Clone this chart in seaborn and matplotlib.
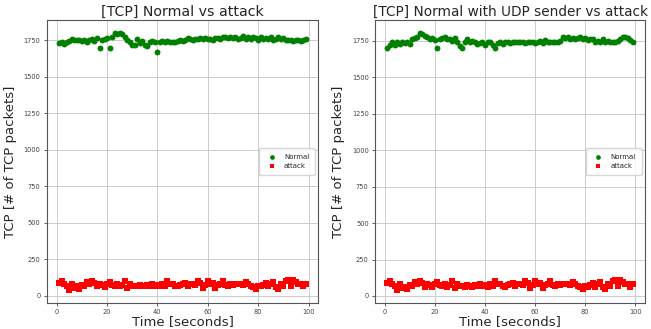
import numpy as np
import pandas as pd
import matplotlib
matplotlib.use("Agg")
import matplotlib.pyplot as plt
import seaborn as sns

# ── Data ──
seconds = list(range(1, 100))

normal_left = [
    1730, 1740, 1725, 1740, 1745, 1760, 1755, 1750, 1755, 1745,
    1750, 1735, 1755, 1760, 1745, 1765, 1700, 1750, 1760, 1765,
    1700, 1770, 1800, 1795, 1800, 1790, 1770, 1750, 1740, 1715,
    1715, 1760, 1730, 1745, 1720, 1710, 1735, 1745, 1740, 1670,
    1740, 1745, 1735, 1745, 1740, 1740, 1735, 1745, 1750, 1745,
    1755, 1765, 1760, 1755, 1760, 1760, 1765, 1760, 1765, 1760,
    1760, 1755, 1765, 1765, 1760, 1770, 1770, 1765, 1775, 1765,
    1770, 1760, 1765, 1780, 1760, 1770, 1760, 1775, 1765, 1755,
    1770, 1760, 1765, 1760, 1770, 1755, 1760, 1770, 1760, 1765,
    1755, 1755, 1750, 1745, 1750, 1750, 1745, 1750, 1760,
]

normal_udp = [
    1705, 1720, 1745, 1720, 1740, 1730, 1740, 1735, 1745, 1730,
    1760, 1770, 1780, 1805, 1800, 1785, 1775, 1760, 1770, 1755,
    1705, 1760, 1770, 1775, 1760, 1765, 1750, 1770, 1740, 1715,
    1705, 1745, 1760, 1740, 1750, 1745, 1730, 1735, 1740, 1725,
    1745, 1740, 1720, 1700, 1735, 1740, 1730, 1740, 1745, 1735,
    1745, 1740, 1745, 1740, 1740, 1735, 1740, 1745, 1740, 1735,
    1745, 1750, 1735, 1755, 1740, 1745, 1740, 1740, 1745, 1750,
    1775, 1770, 1775, 1765, 1770, 1765, 1770, 1775, 1760, 1770,
    1755, 1765, 1760, 1745, 1750, 1745, 1760, 1740, 1750, 1745,
    1740, 1745, 1750, 1760, 1775, 1780, 1770, 1755, 1745,
]

attack = [
    90, 100, 85, 70, 40, 80, 55, 65, 50, 75,
    70, 95, 80, 100, 90, 65, 85, 75, 60, 80,
    95, 75, 70, 85, 65, 75, 100, 55, 85, 70,
    70, 65, 75, 70, 65, 75, 70, 80, 70, 75,
    65, 80, 70, 105, 85, 80, 70, 65, 75, 80,
    90, 70, 80, 85, 75, 105, 90, 55, 75, 100,
    80, 90, 55, 75, 80, 100, 75, 70, 80, 75,
    85, 80, 80, 75, 95, 85, 70, 60, 50, 70,
    65, 75, 90, 65, 80, 95, 60, 50, 85, 70,
    100, 110, 70, 110, 95, 85, 80, 65, 80,
]

titles = ["[TCP] Normal vs attack", "[TCP] Normal with UDP sender vs attack"]

sns.set_style("ticks")
plt.rcParams["font.family"] = ["DejaVu Sans"]

fig = plt.figure(figsize=(6.51, 3.29), dpi=100)
ax1 = fig.add_axes([0.072, 0.079, 0.417, 0.860])
ax2 = fig.add_axes([0.576, 0.079, 0.415, 0.860])

for ax, normal, title in [(ax1, normal_left, titles[0]), (ax2, normal_udp, titles[1])]:
    df_n = pd.DataFrame({"t": seconds, "v": normal})
    df_a = pd.DataFrame({"t": seconds, "v": attack})
    sns.scatterplot(data=df_n, x="t", y="v", ax=ax, color="green", marker="o",
                    s=18, linewidth=0, label="Normal")
    sns.scatterplot(data=df_a, x="t", y="v", ax=ax, color="red", marker="s",
                    s=13, linewidth=0, label="attack")
    ax.set_title(title, fontsize=10.2 if ax is ax1 else 9.8, pad=3)
    ax.set_xlabel("Time [seconds]", fontsize=9.5, labelpad=0)
    ax.set_ylabel("TCP [# of TCP packets]", fontsize=9.5, labelpad=5)
    ax.set_yticks([0, 250, 500, 750, 1000, 1250, 1500, 1750])
    ax.set_xticks([0, 20, 40, 60, 80, 100])
    ax.tick_params(labelsize=4.8, length=2.5, width=0.6, colors="#444444", pad=2)
    ax.grid(True, color="#cccccc", linewidth=0.7)
    for sp in ax.spines.values():
        sp.set_color("#555555")
        sp.set_linewidth(0.8)
    ax.legend(loc="center right", fontsize=5, markerscale=0.8, frameon=True,
              handletextpad=0.8, borderpad=0.8)

fig.savefig("out.png", dpi=100)
